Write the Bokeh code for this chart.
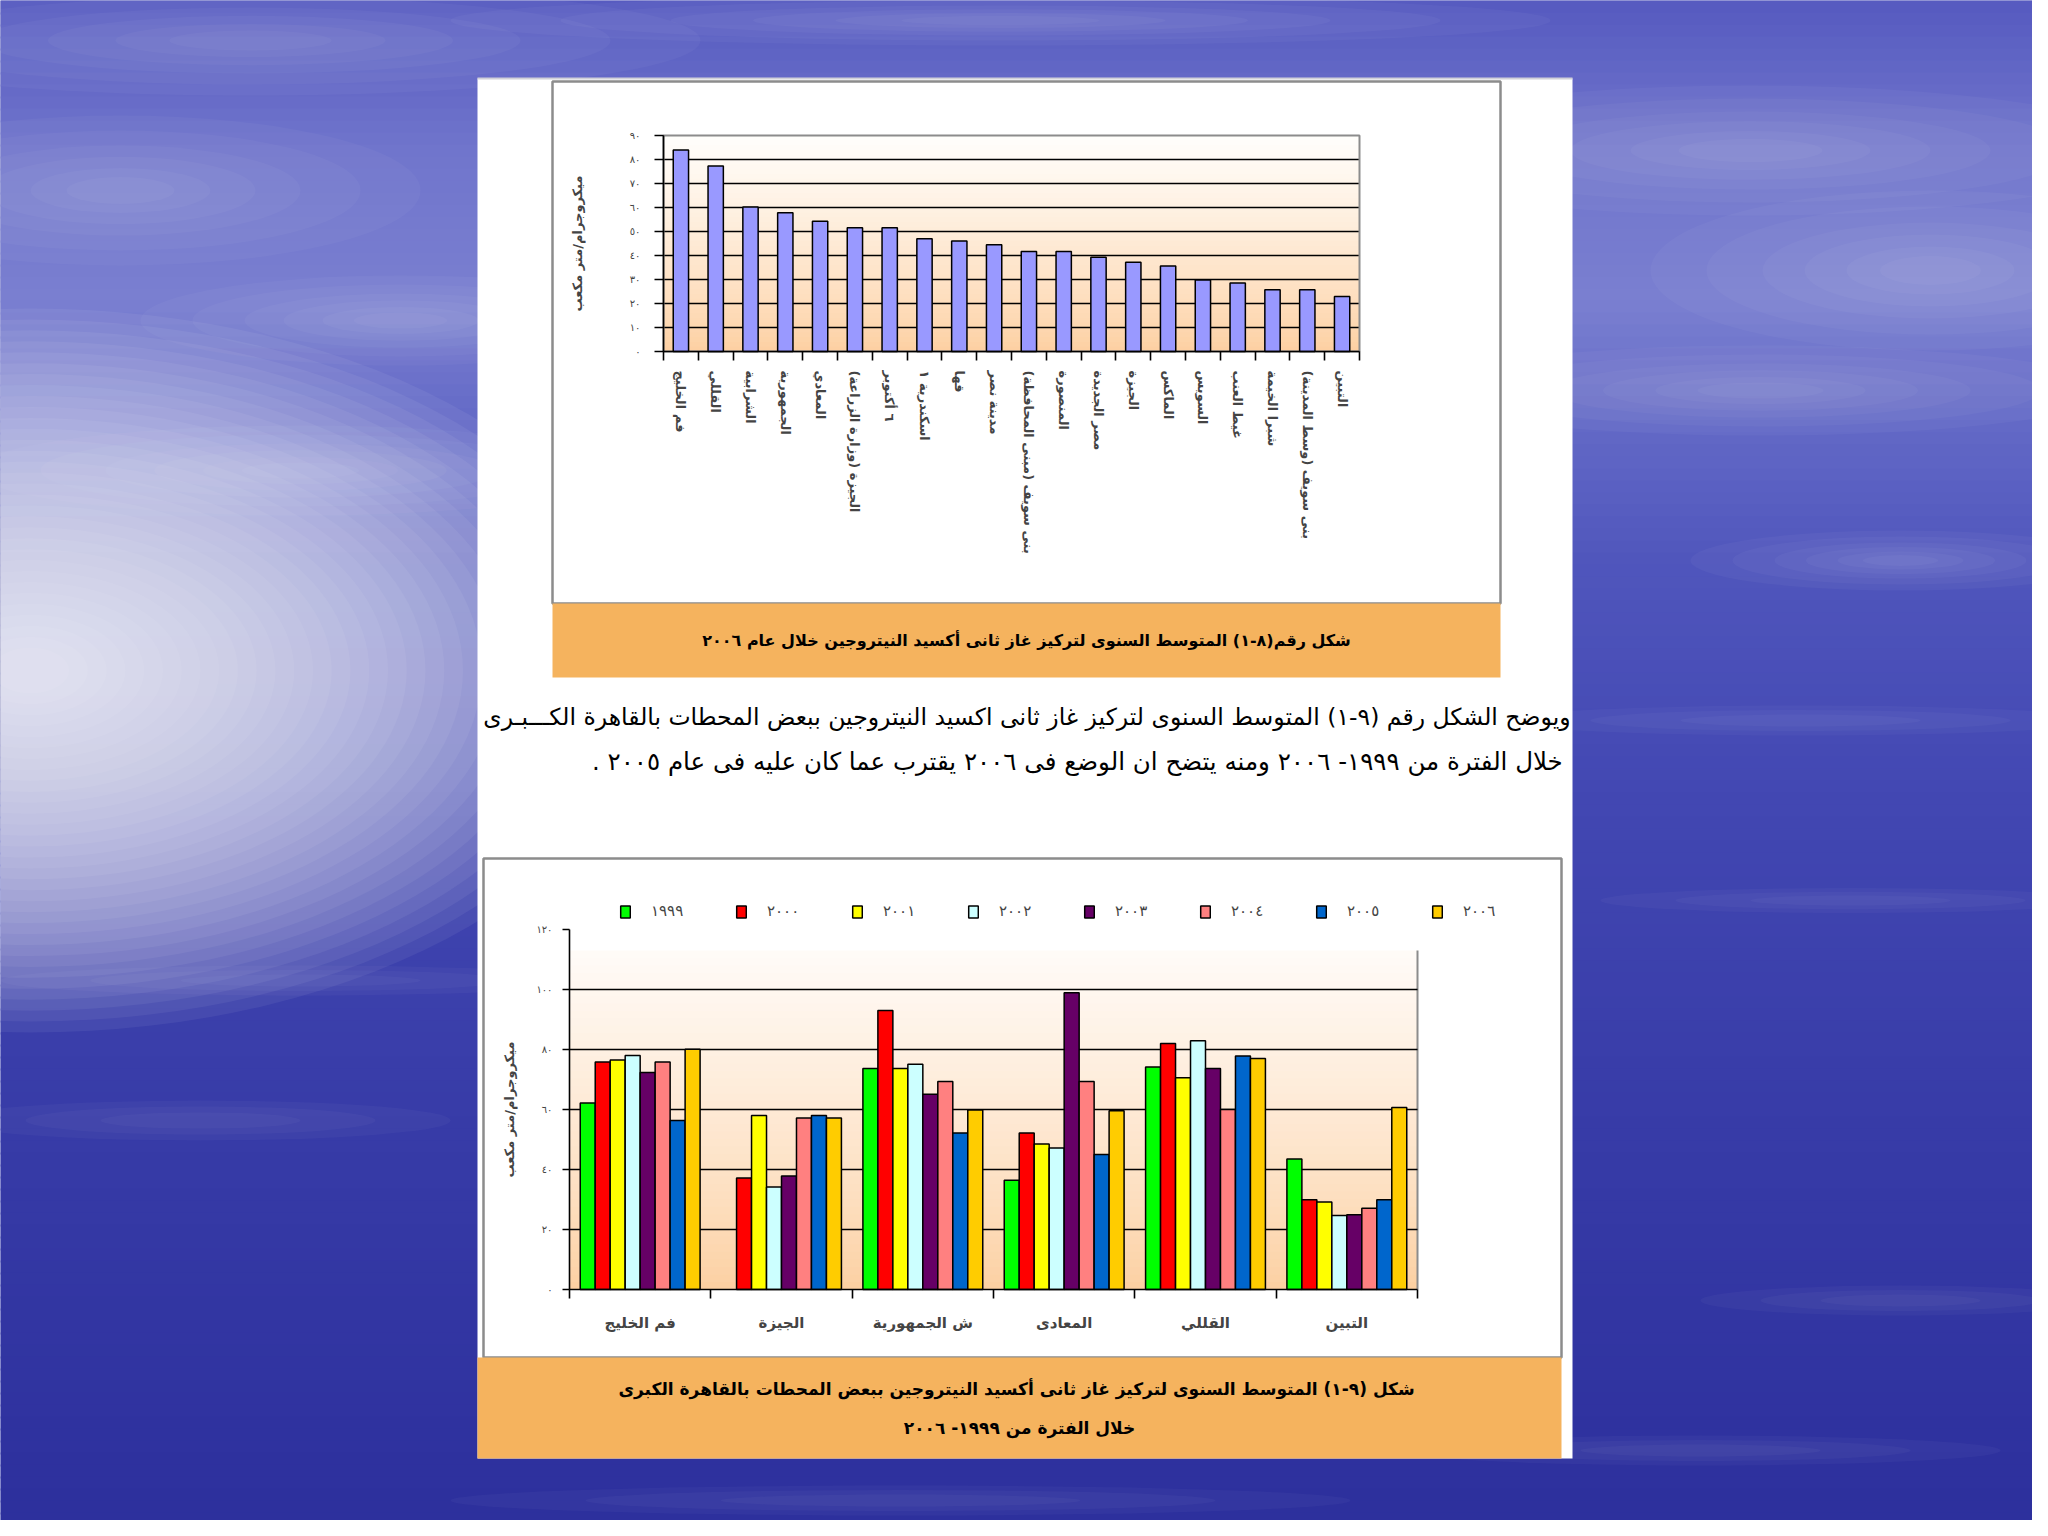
import math
from bokeh.plotting import figure
from bokeh.models import (Range1d, FixedTicker, LinearAxis, LinearScale, Legend, LegendItem, ColumnDataSource)
from bokeh.transform import dodge
from bokeh.core.properties import value
from bokeh.embed import file_html
from bokeh.resources import INLINE

AR = "DejaVu Sans"
NAN = float("nan")
RLM = "\u200f"

# ---------------- chart 1 data (2006 annual mean NO2) ----------------
stations_2006 = ["فم الخليج", "القللي", "الشرابية", "الجمهورية", "المعادي",
                 "الجيزة (وزارة الزراعة)", "٦ أكتوبر", "اسكندرية ١", "قها", "مدينة نصر",
                 "بنى سويف (مبنى المحافظة)", "المنصورة", "مصر الجديدة", "الجيزة", "الماكس",
                 "السويس", "غيط العنب", "شبرا الخيمة", "بنى سويف (وسط المدينة)", "التبين"]
no2_2006 = [84.0, 77.3, 60.2, 57.8, 54.3, 51.6, 51.6, 47.0, 46.0, 44.5,
            41.7, 41.7, 39.3, 37.2, 35.6, 29.8, 28.5, 25.7, 25.7, 22.9]
y1_ticks = [0, 10, 20, 30, 40, 50, 60, 70, 80, 90]
y1_labels = ["٠", "١٠", "٢٠", "٣٠", "٤٠", "٥٠", "٦٠", "٧٠", "٨٠", "٩٠"]

# ---------------- chart 2 data (1999-2006) ----------------
stations_trend = ["فم الخليج", "الجيزة", "ش الجمهورية", "المعادى", "القللي", "التبين"]
years = ["١٩٩٩", "٢٠٠٠", "٢٠٠١", "٢٠٠٢", "٢٠٠٣", "٢٠٠٤", "٢٠٠٥", "٢٠٠٦"]
no2_1999 = [62.2, NAN, 73.7, 36.4, 74.2, 43.5]
no2_2000 = [75.8, 37.2, 93.0, 52.2, 82.0, 29.9]
no2_2001 = [76.5, 58.0, 73.7, 48.5, 70.6, 29.2]
no2_2002 = [78.0, 34.2, 75.1, 47.2, 82.9, 24.7]
no2_2003 = [72.3, 37.8, 65.1, 98.9, 73.7, 24.9]
no2_2004 = [75.8, 57.2, 69.3, 69.3, 60.0, 27.1]
no2_2005 = [56.3, 58.0, 52.2, 45.0, 77.8, 29.9]
no2_2006b = [80.1, 57.2, 59.8, 59.6, 77.0, 60.7]
y2_ticks = [0, 20, 40, 60, 80, 100, 120]
y2_labels = ["٠", "٢٠", "٤٠", "٦٠", "٨٠", "١٠٠", "١٢٠"]
year_colors = ["#00FF00", "#FF0000", "#FFFF00", "#CCFFFF", "#660066", "#FF8080", "#0066CC", "#FFCC00"]

# ---------------- texts ----------------
unit_label = "ميكروجرام/متر مكعب"
caption1 = "شكل رقم(٨-١) المتوسط السنوى لتركيز غاز ثانى أكسيد النيتروجين خلال عام ٢٠٠٦"
para_lines = ["ويوضح الشكل رقم (٩-١) المتوسط السنوى لتركيز غاز ثانى اكسيد النيتروجين ببعض المحطات بالقاهرة الكـــبـرى",
              "خلال الفترة من ١٩٩٩- ٢٠٠٦  ومنه يتضح ان الوضع فى ٢٠٠٦ يقترب عما كان عليه فى عام ٢٠٠٥ ."]
caption2 = ["شكل (٩-١) المتوسط السنوى لتركيز غاز ثانى أكسيد النيتروجين  ببعض المحطات بالقاهرة الكبرى",
            "خلال الفترة من ١٩٩٩- ٢٠٠٦"]

ORANGE = "#F5B35E"
GRAY = "#8C8C8C"


def rtl(s):
    # keep leading/trailing punctuation on the right-to-left side
    return RLM + s + RLM


# ---------------- canvas: one frame covering the whole picture, data coords = picture pixels ----------------
W, H = 2032, 1520
X0, Y0 = 0, 0
p = figure(width=W, height=H, x_range=Range1d(X0, X0 + W), y_range=Range1d(Y0 + H, Y0),
           toolbar_location=None, output_backend="svg", min_border=0,
           x_axis_location=None, y_axis_location=None)
p.grid.visible = False
p.outline_line_color = None
p.background_fill_color = "#4B50B8"
p.border_fill_color = "#4B50B8"


def mapped(p0, v0, p1, v1, lo, hi):
    s = (v1 - v0) / (p1 - p0)
    return Range1d(start=v0 + (lo - p0) * s, end=v0 + (hi - p0) * s)


# chart plot areas (picture pixels): chart1 x 663..1359, y 351(0)..135(90); chart2 x 569..1417, y 1289(0)..929(120)
p.extra_x_ranges = {"c1": mapped(663, 0.5, 1359, len(stations_2006) + 0.5, X0, X0 + W),
                    "c2": mapped(569, 0.5, 1417, len(stations_trend) + 0.5, X0, X0 + W)}
p.extra_y_ranges = {"v1": mapped(351, 0, 135, 90, Y0 + H, Y0),
                    "v2": mapped(1289, 0, 929, 120, Y0 + H, Y0)}
p.extra_x_scales = {"c1": LinearScale(), "c2": LinearScale()}
p.extra_y_scales = {"v1": LinearScale(), "v2": LinearScale()}


def lerp(c0, c1, t):
    return tuple(c0[i] + (c1[i] - c0[i]) * t for i in range(3))


def hexc(c):
    return "#%02x%02x%02x" % tuple(int(round(max(0, min(255, v)))) for v in c)


# ---------------- background (sky / sea) ----------------
BG_STOPS = [(0, (86, 90, 192)), (150, (112, 117, 204)), (300, (122, 127, 208)), (430, (98, 104, 198)),
            (560, (80, 86, 188)), (800, (66, 71, 178)), (1100, (56, 60, 168)), (1540, (44, 47, 156))]


def bg_color(y):
    for (ya, ca), (yb, cb) in zip(BG_STOPS[:-1], BG_STOPS[1:]):
        if ya <= y <= yb:
            return hexc(lerp(ca, cb, (y - ya) / (yb - ya)))
    return hexc(BG_STOPS[-1][1])


ys = list(range(0, 1540, 12))
p.quad(left=[0] * len(ys), right=[2048] * len(ys), top=ys, bottom=[y + 14 for y in ys],
       fill_color=[bg_color(y + 6) for y in ys], line_color=None)

clouds = [(250, 40, 900, 110), (120, 190, 600, 150), (400, 320, 520, 90), (1750, 150, 800, 130),
          (1930, 270, 560, 160), (1760, 390, 700, 90), (1000, 20, 1100, 50),
          (1900, 560, 420, 60), (300, 470, 650, 90)]
for cx, cy, w, h in clouds:
    for f in (1.0, 0.8, 0.6, 0.45, 0.3, 0.18):
        p.ellipse(x=[cx], y=[cy], width=[w * f], height=[h * f], fill_color="white", fill_alpha=0.035,
                  line_color=None)
streaks = [(1800, 720, 600, 30), (1850, 900, 500, 25), (300, 980, 600, 30),
           (200, 1120, 500, 40), (1900, 1300, 400, 30), (900, 1500, 900, 30), (1700, 1450, 600, 30)]
for cx, cy, w, h in streaks:
    for f in (1.0, 0.7, 0.4):
        p.ellipse(x=[cx], y=[cy], width=[w * f], height=[h * f], fill_color="white", fill_alpha=0.03,
                  line_color=None)
for k in range(32):
    f = 1 - k / 32
    p.ellipse(x=[30], y=[670], width=[1200 * f + 40], height=[700 * f + 24], fill_color="white",
              fill_alpha=0.06, line_color=None)

# ---------------- page ----------------
p.quad(left=[477], right=[1572], top=[78], bottom=[1458], fill_color="white", line_color=None)
p.segment(x0=[477], x1=[1572], y0=[78], y1=[78], line_color="#D0D0D8", line_width=2)
# chart 1 frame + caption
p.quad(left=[552], right=[1500], top=[81], bottom=[603], fill_color=None, line_color=GRAY, line_width=2.5)
p.quad(left=[552], right=[1500], top=[603], bottom=[677], fill_color=ORANGE, line_color=None)
p.text(x=[1026], y=[640], text=[rtl(caption1)], text_align="center", text_baseline="middle",
       text_font=value(AR), text_font_size="16px", text_font_style="bold", text_color="black")
# paragraph
p.text(x=[1570], y=[716], text=[rtl(para_lines[0])], text_align="right", text_baseline="middle",
       text_font=value(AR), text_font_size="23.5px", text_color="black")
p.text(x=[1570], y=[761], text=[rtl(para_lines[1])], text_align="right", text_baseline="middle",
       text_font=value(AR), text_font_size="24.5px", text_color="black")
# chart 2 frame + caption
p.quad(left=[483], right=[1561], top=[858], bottom=[1357], fill_color=None, line_color=GRAY, line_width=2.5)
p.quad(left=[477], right=[1561], top=[1357], bottom=[1458], fill_color=ORANGE, line_color=None)
p.text(x=[1019, 1019], y=[1388, 1427], text=[rtl(t) for t in caption2], text_align="center",
       text_baseline="middle", text_font=value(AR), text_font_size="17px", text_font_style="bold",
       text_color="black")


def plot_gradient(xr, yr, x_lo, x_hi, vmax, bottom_rgb, top_rgb, n=45):
    step = vmax / n
    bottoms = [i * step for i in range(n)]
    tops = [min((i + 1.3) * step, vmax) for i in range(n)]
    colors = [hexc(lerp(bottom_rgb, top_rgb, ((i + 0.5) / n) ** 0.8)) for i in range(n)]
    p.quad(left=[x_lo] * n, right=[x_hi] * n, bottom=bottoms, top=tops, fill_color=colors,
           line_color=None, x_range_name=xr, y_range_name=yr)


def axis_common(ax, size):
    ax.major_label_text_font = AR
    ax.major_label_text_font_size = size
    ax.minor_tick_line_color = None
    ax.axis_line_width = 1.6
    ax.major_tick_line_width = 1.6
    ax.major_tick_in = 0


# ================= chart 1 =================
n1 = len(stations_2006)
pos1 = list(range(1, n1 + 1))
plot_gradient("c1", "v1", 0.5, n1 + 0.5, 90, (253, 207, 160), (255, 254, 252))
g1 = y1_ticks[1:-1]
p.segment(x0=[0.5] * len(g1), x1=[n1 + 0.5] * len(g1), y0=g1, y1=g1, x_range_name="c1", y_range_name="v1",
          line_color="black", line_width=1.6)
p.quad(left=[0.5], right=[n1 + 0.5], bottom=[0], top=[90], fill_color=None, line_color=GRAY, line_width=2,
       x_range_name="c1", y_range_name="v1")
p.vbar(x=pos1, top=no2_2006, width=0.44, fill_color="#9999FF", line_color="black", line_width=1.5,
       x_range_name="c1", y_range_name="v1")

ya1 = LinearAxis(x_range_name="c1", y_range_name="v1", fixed_location=0.5, bounds=(0, 90),
                 ticker=FixedTicker(ticks=y1_ticks),
                 major_label_overrides={t: l for t, l in zip(y1_ticks, y1_labels)})
axis_common(ya1, "10px")
ya1.major_tick_out = 9
ya1.major_label_standoff = 14
ya1.axis_label = unit_label
ya1.axis_label_text_font = AR
ya1.axis_label_text_font_size = "13px"
ya1.axis_label_text_font_style = "bold"
ya1.axis_label_standoff = 42
p.add_layout(ya1, "left")

xt1 = LinearAxis(x_range_name="c1", y_range_name="v1", fixed_location=0, bounds=(0.5, n1 + 0.5),
                 ticker=FixedTicker(ticks=[i + 0.5 for i in range(n1 + 1)]),
                 major_label_text_alpha=0, major_label_standoff=0)
axis_common(xt1, "1px")
xt1.major_tick_out = 9
p.add_layout(xt1, "below")

xl1 = LinearAxis(x_range_name="c1", y_range_name="v1", fixed_location=0, bounds=(0.5, n1 + 0.5),
                 ticker=FixedTicker(ticks=pos1),
                 major_label_overrides={q: rtl(s) for q, s in zip(pos1, stations_2006)},
                 axis_line_color=None, major_tick_line_color=None,
                 major_label_orientation=-math.pi / 2, major_label_standoff=19,
                 major_label_text_font_style="bold")
axis_common(xl1, "13px")
xl1.major_tick_out = 0
p.add_layout(xl1, "below")

# ================= chart 2 =================
n2 = len(stations_trend)
pos2 = list(range(1, n2 + 1))
plot_gradient("c2", "v2", 0.5, n2 + 0.5, 113, (252, 207, 160), (255, 251, 248))
p.segment(x0=[n2 + 0.5], x1=[n2 + 0.5], y0=[0], y1=[113], x_range_name="c2", y_range_name="v2",
          line_color=GRAY, line_width=2)
g2 = y2_ticks[1:-1]
p.segment(x0=[0.5] * len(g2), x1=[n2 + 0.5] * len(g2), y0=g2, y1=g2, x_range_name="c2", y_range_name="v2",
          line_color="black", line_width=1.6)

series = [no2_1999, no2_2000, no2_2001, no2_2002, no2_2003, no2_2004, no2_2005, no2_2006b]
bw = 0.106
items = []
for i, vals in enumerate(series):
    src = ColumnDataSource(dict(pos=pos2, top=vals))
    r = p.vbar(x=dodge("pos", (i - 3.5) * bw), top="top", width=bw, source=src,
               fill_color=year_colors[i], line_color="black", line_width=1.5,
               x_range_name="c2", y_range_name="v2")
    items.append(LegendItem(label=years[i], renderers=[r]))

legend = Legend(items=items, orientation="horizontal", location=(619, 600), glyph_width=12, glyph_height=15,
                label_standoff=20, label_width=56, label_height=15, spacing=28, padding=0, margin=0,
                border_line_color=None, background_fill_alpha=0, label_text_font=AR,
                label_text_font_size="15px")
p.add_layout(legend)

ya2 = LinearAxis(x_range_name="c2", y_range_name="v2", fixed_location=0.5, bounds=(0, 120),
                 ticker=FixedTicker(ticks=y2_ticks),
                 major_label_overrides={t: l for t, l in zip(y2_ticks, y2_labels)})
axis_common(ya2, "10px")
ya2.major_tick_out = 7
ya2.major_label_standoff = 10
ya2.axis_label = unit_label
ya2.axis_label_text_font = AR
ya2.axis_label_text_font_size = "13px"
ya2.axis_label_text_font_style = "bold"
ya2.axis_label_standoff = 16
p.add_layout(ya2, "left")

xt2 = LinearAxis(x_range_name="c2", y_range_name="v2", fixed_location=0, bounds=(0.5, n2 + 0.5),
                 ticker=FixedTicker(ticks=[i + 0.5 for i in range(n2 + 1)]),
                 major_label_text_alpha=0, major_label_standoff=0)
axis_common(xt2, "1px")
xt2.major_tick_out = 9
p.add_layout(xt2, "below")

xl2 = LinearAxis(x_range_name="c2", y_range_name="v2", fixed_location=0, bounds=(0.5, n2 + 0.5),
                 ticker=FixedTicker(ticks=pos2),
                 major_label_overrides={q: s for q, s in zip(pos2, stations_trend)},
                 axis_line_color=None, major_tick_line_color=None, major_label_standoff=24,
                 major_label_text_font_style="bold")
axis_common(xl2, "15px")
xl2.major_tick_out = 0
p.add_layout(xl2, "below")

open("out.html", "w").write(file_html(p, INLINE))
